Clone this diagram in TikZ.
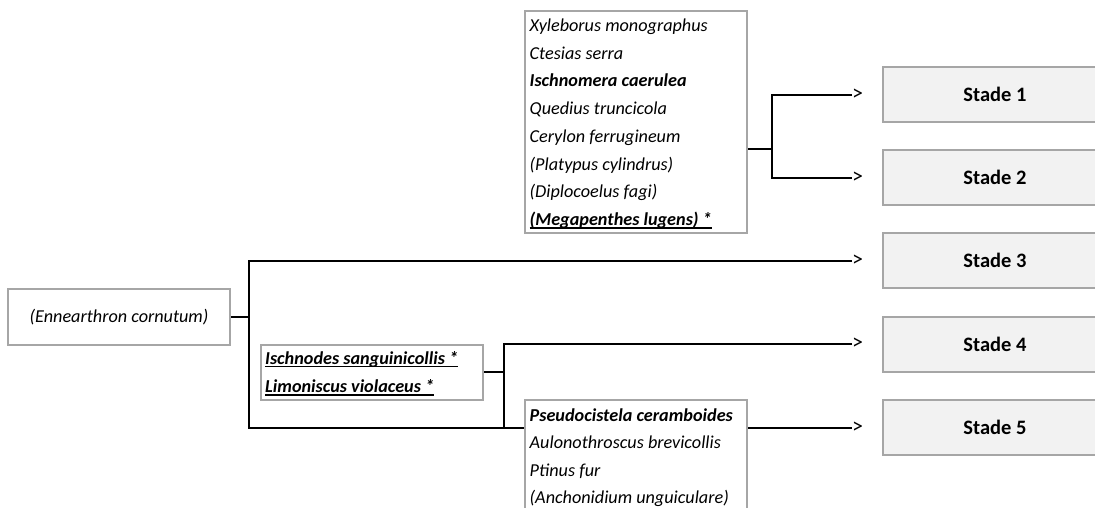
\documentclass[tikz,border=0pt]{standalone}
\usepackage{fontspec}
\setmainfont{Carlito}
\definecolor{boxgray}{HTML}{A6A6A6}
\definecolor{stadefill}{HTML}{F2F2F2}
\pgfdeclarelayer{background}
\pgfsetlayers{background,main}
\newcommand{\fs}{\fontsize{18.2}{22}\selectfont}
\newcommand{\fsst}{\fontsize{20.5}{24}\selectfont}
\newcommand{\fsgt}{\fontsize{22}{26}\selectfont}
\begin{document}
\begin{tikzpicture}[x=1pt,y=-1pt,
  conn/.style={line width=2pt, black},
  ul/.style={line width=1.6pt, black},
  listbox/.style={draw=boxgray, line width=2pt, fill=white, inner sep=0pt, outer sep=0pt},
  stadebox/.style={draw=boxgray, line width=2pt, fill=stadefill, minimum width=224pt, minimum height=55pt, inner sep=0pt, outer sep=0pt, font=\fsst\bfseries},
  sp/.style={anchor=base west, inner sep=0pt, font=\fs\itshape},
  spb/.style={anchor=base west, inner sep=0pt, font=\fs\bfseries\itshape},
  gt/.style={anchor=west, inner sep=0pt, font=\fsgt}
]
\clip (0,0) rectangle (1095,508);

% boxes
\node[listbox, minimum width=222pt, minimum height=222pt] (tb) at (636,122) {};
\node[listbox, minimum width=222pt, minimum height=56pt, font=\fs\itshape] (en) at (119,317) {(Ennearthron cornutum)};
\node[listbox, minimum width=222pt, minimum height=55pt] (ib) at (372,372.5) {};
\node[listbox, minimum width=222pt, minimum height=130pt] (pb) at (636,465) {};

% stade boxes
\node[stadebox] (s1) at (995,94.5) {Stade 1};
\node[stadebox] (s2) at (995,177.5) {Stade 2};
\node[stadebox] (s3) at (995,260.5) {Stade 3};
\node[stadebox] (s4) at (995,344.5) {Stade 4};
\node[stadebox] (s5) at (995,427.5) {Stade 5};

% arrow heads
\node[gt] (a1) at (852,95) {>};
\node[gt] (a2) at (852,178) {>};
\node[gt] (a3) at (852,261) {>};
\node[gt] (a4) at (852,344) {>};
\node[gt] (a5) at (852,428) {>};

% top list
\node[sp]  (t1) at (529.5,31.6) {Xyleborus monographus};
\node[sp]  (t2) at (529.5,59.3) {Ctesias serra};
\node[spb] (t3) at (529.5,87.0) {Ischnomera caerulea};
\node[sp]  (t4) at (529.5,114.7) {Quedius truncicola};
\node[sp]  (t5) at (529.5,142.4) {Cerylon ferrugineum};
\node[sp]  (t6) at (529.5,170.1) {(Platypus cylindrus)};
\node[sp]  (t7) at (529.5,197.8) {(Diplocoelus fagi)};
\node[spb] (t8) at (529.5,225.5) {(Megapenthes lugens) *};

% middle list
\node[spb] (i1) at (265,364) {Ischnodes sanguinicollis *};
\node[spb] (i2) at (265,392.5) {Limoniscus violaceus *};

% bottom list
\node[spb] (p1) at (529.5,421) {Pseudocistela ceramboides};
\node[sp]  (p2) at (529.5,448.5) {Aulonothroscus brevicollis};
\node[sp]  (p3) at (529.5,476) {Ptinus fur};
\node[sp]  (p4) at (529.5,503.5) {(Anchonidium unguiculare)};

% underlines
\draw[ul] ([yshift=-2.5pt]t8.base west) -- ([yshift=-2.5pt]t8.base east);
\draw[ul] ([yshift=-2.5pt]i1.base west) -- ([yshift=-2.5pt]i1.base east);
\draw[ul] ([yshift=-2.5pt]i2.base west) -- ([yshift=-2.5pt]i2.base east);

% connectors
\begin{pgfonlayer}{background}
\coordinate (jT) at (772,149);
\coordinate (jL) at (249,317);
\coordinate (jM) at (504,372);
\draw[conn] (tb.east |- jT) -- (jT);
\draw[conn] (a1.west) -| (jT) |- (a2.west);
\draw[conn] (en.east) -- (jL);
\draw[conn] (a3.west) -| (jL) |- (a5.west);
\draw[conn] (ib.east |- jM) -- (jM);
\draw[conn] (a4.west) -| (jM) -- (jM |- a5.west);
\end{pgfonlayer}
\end{tikzpicture}
\end{document}
